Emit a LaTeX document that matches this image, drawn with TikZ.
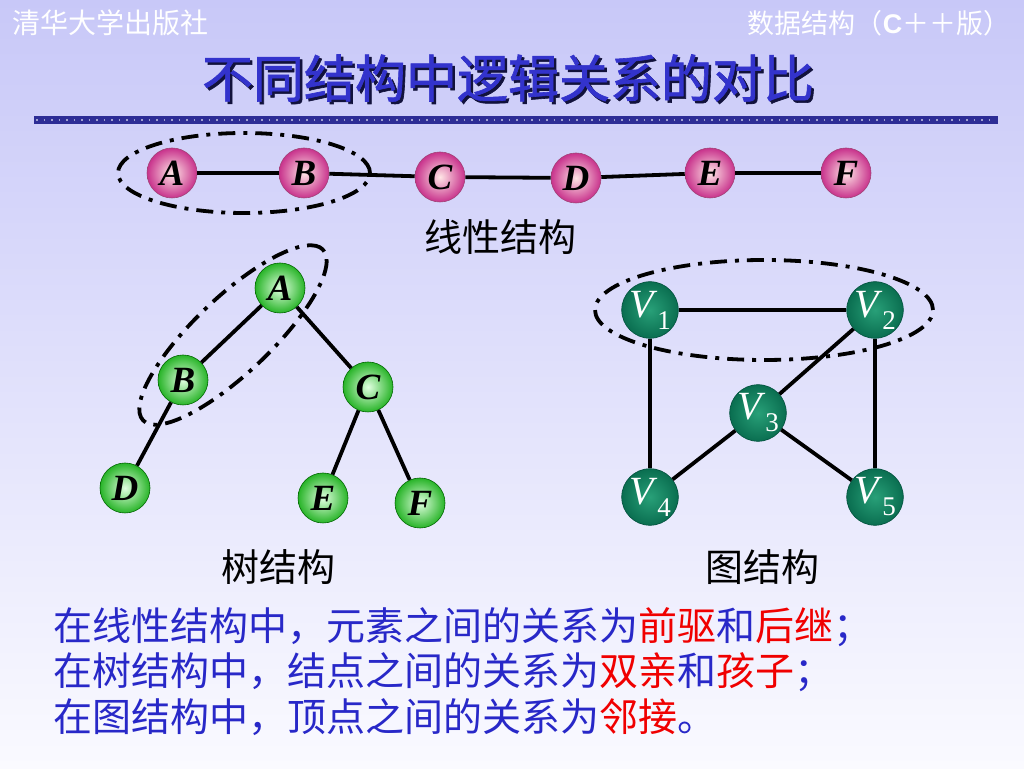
\documentclass[tikz,border=0pt]{standalone}
\usepackage{fontspec}
\setmainfont{Liberation Serif}
\setsansfont{Liberation Sans}
\newfontfamily\cjk{Noto Sans CJK SC}
\newfontfamily\cjkheavy[FakeBold=1.2]{Noto Sans CJK SC}
\definecolor{bgtop}{RGB}{200,200,248}
\definecolor{bgbot}{RGB}{250,250,255}
\definecolor{titleblue}{RGB}{51,51,204}
\definecolor{sepblue}{RGB}{45,45,150}
\definecolor{textblue}{RGB}{40,40,200}
\definecolor{textred}{RGB}{240,0,0}
\newcommand{\vsub}[1]{\textit{V}\raisebox{-0.3em}{\fontsize{27}{27}\selectfont #1}}
\tikzset{
  linnode/.style={circle, minimum size=50pt, inner sep=0pt, draw=magenta!60!black, line width=0.6pt,
    shading=radial, inner color=pink!40!white, outer color={rgb,255:red,200;green,50;blue,140},
    font=\fontsize{37}{37}\selectfont\bfseries\itshape},
  treenode/.style={circle, minimum size=50pt, inner sep=0pt, draw=green!40!black, line width=0.6pt,
    shading=radial, inner color=green!12!white, outer color={rgb,255:red,40;green,180;blue,40},
    font=\fontsize{37}{37}\selectfont\bfseries\itshape},
  graphnode/.style={circle, minimum size=54pt, inner sep=0pt, draw={rgb,255:red,0;green,80;blue,60}, line width=0.6pt,
    shading=radial, inner color={rgb,255:red,40;green,160;blue,120}, outer color={rgb,255:red,10;green,110;blue,80},
    text=white, font=\fontsize{40}{40}\selectfont},
  edge/.style={line width=3.8pt},
  ring/.style={line width=3.8pt, dash pattern=on 17pt off 8pt on 4pt off 8pt},
  caption/.style={font=\cjk\fontsize{38}{38}\selectfont},
  body/.style={anchor=west, text=textblue, font=\cjk\fontsize{39}{39}\selectfont},
}
\begin{document}
\begin{tikzpicture}[x=1pt, y=1pt]
	\useasboundingbox (0,0) rectangle (1024,768);
	\shade [top color=bgtop, bottom color=bgbot] (0,0) rectangle (1024,768); % Hintergrund
	
	\node [anchor=west, text=white, font=\cjk\fontsize{28}{28}\selectfont] (press) at (9,745) {清华大学出版社};
	\node [anchor=east, text=white, font=\cjk\fontsize{27}{27}\selectfont] (book) at (1014,745) {数据结构（{\sffamily\bfseries C}＋＋版）};
	\node [text=sepblue!40!black, font=\cjkheavy\fontsize{51}{51}\selectfont] (titleshadow) at (510.5,687.5) {不同结构中逻辑关系的对比};
	\node [text=titleblue, font=\cjkheavy\fontsize{51}{51}\selectfont] (title) at (508,690) {不同结构中逻辑关系的对比};
	
	\fill [sepblue] (34,644) rectangle (998,652); % Trennlinie
	\draw [white!55!sepblue, line width=1.2pt, dash pattern=on 1.5pt off 6pt] (36,648) -- (996,648);
	
	\node [linnode] (linA) at (172,595) {A}; % lineare Struktur
	\node [linnode] (linB) at (304,595) {B};
	\node [linnode] (linC) at (440,591) {C};
	\node [linnode] (linD) at (576,590) {D};
	\node [linnode] (linE) at (710,595) {E};
	\node [linnode] (linF) at (846,595) {F};
	\draw [edge] (linA) -- (linB);
	\draw [edge] (linB) -- (linC);
	\draw [edge] (linC) -- (linD);
	\draw [edge] (linD) -- (linE);
	\draw [edge] (linE) -- (linF);
	\draw [ring] (244,595) ellipse [x radius=126, y radius=40];
	\node [caption] (lincap) at (500,531) {线性结构};
	
	\node [treenode] (treeA) at (280,480) {A}; % Baum
	\node [treenode] (treeB) at (183,388) {B};
	\node [treenode] (treeC) at (368,381) {C};
	\node [treenode] (treeD) at (125,280) {D};
	\node [treenode] (treeE) at (323,270) {E};
	\node [treenode] (treeF) at (420,265) {F};
	\draw [edge] (treeA) -- (treeB);
	\draw [edge] (treeA) -- (treeC);
	\draw [edge] (treeB) -- (treeD);
	\draw [edge] (treeC) -- (treeE);
	\draw [edge] (treeC) -- (treeF);
	\draw [ring, rotate around={43.5:(233,433)}] (233,433) ellipse [x radius=124, y radius=38];
	\node [caption] (treecap) at (278,201) {树结构};
	
	\node [graphnode] (V1) at (650,458) {\vsub{1}}; % Graph
	\node [graphnode] (V2) at (875,458) {\vsub{2}};
	\node [graphnode] (V3) at (758,355) {\vsub{3}};
	\node [graphnode] (V4) at (650,271) {\vsub{4}};
	\node [graphnode] (V5) at (875,271) {\vsub{5}};
	\draw [edge] (V1) -- (V2);
	\draw [edge] (V1) -- (V4);
	\draw [edge] (V2) -- (V3);
	\draw [edge] (V2) -- (V5);
	\draw [edge] (V3) -- (V4);
	\draw [edge] (V3) -- (V5);
	\draw [ring] (764,458) ellipse [x radius=169, y radius=50];
	\node [caption] (graphcap) at (762,201) {图结构};
	
	\node [body] (line1) at (50,141) {在线性结构中，元素之间的关系为\textcolor{textred}{前驱}和\textcolor{textred}{后继}；};
	\node [body] (line2) at (50,96) {在树结构中，结点之间的关系为\textcolor{textred}{双亲}和\textcolor{textred}{孩子}；};
	\node [body] (line3) at (50,51) {在图结构中，顶点之间的关系为\textcolor{textred}{邻接}。};
\end{tikzpicture}
\end{document}
